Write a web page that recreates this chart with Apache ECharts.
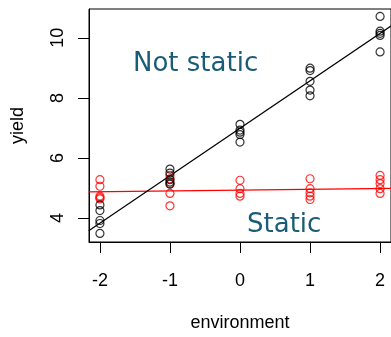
<!DOCTYPE html>
<html><head><meta charset="utf-8">
<script src="https://cdn.jsdelivr.net/npm/echarts@6/dist/echarts.min.js"></script>
<style>html,body{margin:0;padding:0;background:#fff}#c{width:391px;height:337px}</style>
</head><body><div id="c"></div>
<script>
var environments = [-2, -1, 0, 1, 2];
var notStatic = [
  [4.44, 4.25, 3.92, 3.82, 3.49],
  [5.63, 5.50, 5.28, 5.20, 5.13],
  [7.12, 6.93, 6.86, 6.78, 6.53],
  [8.99, 8.91, 8.55, 8.26, 8.07],
  [10.71, 10.22, 10.15, 10.08, 9.53]
];
var staticYield = [
  [5.28, 5.06, 4.73, 4.64, 4.68],
  [5.42, 5.31, 5.15, 4.82, 4.41],
  [5.26, 4.98, 4.82, 4.73],
  [5.31, 4.98, 4.84, 4.73, 4.62],
  [5.42, 5.28, 5.15, 4.98, 4.82]
];
var notStaticLine = [[-2.16, 3.58], [2.16, 10.40]];
var staticLine = [[-2.16, 4.87], [2.16, 4.99]];
var xTicks = [-2, -1, 0, 1, 2];
var yTicks = [4, 6, 8, 10];

function pairs(groups) {
  var out = [];
  groups.forEach(function (g, i) { g.forEach(function (v) { out.push([environments[i], v]); }); });
  return out;
}
var font = 'Liberation Sans, Arial, sans-serif';
var chart = echarts.init(document.getElementById('c'));
chart.setOption({
  animation: false,
  backgroundColor: '#fff',
  grid: { left: 89, top: 9, width: 304, height: 237, show: true, borderColor: '#000', borderWidth: 1, backgroundColor: 'transparent' },
  xAxis: {
    type: 'value', min: -2.156, max: 2.156,
    name: 'environment', nameLocation: 'middle', nameGap: 72,
    nameTextStyle: { fontFamily: font, fontSize: 18, color: '#000' },
    axisLine: { show: true, onZero: false, lineStyle: { color: '#000', width: 1 } },
    splitLine: { show: false },
    axisTick: { show: true, length: 11, customValues: xTicks, lineStyle: { color: '#000' } },
    axisLabel: { customValues: xTicks, margin: 30, fontFamily: font, fontSize: 18, color: '#000' }
  },
  yAxis: {
    type: 'value', min: 3.205, max: 10.958,
    name: 'yield', nameLocation: 'middle', nameGap: 62,
    nameTextStyle: { fontFamily: font, fontSize: 18, color: '#000' },
    axisLine: { show: true, onZero: false, lineStyle: { color: '#000', width: 1 } },
    splitLine: { show: false },
    axisTick: { show: true, length: 11, customValues: yTicks, lineStyle: { color: '#000' } },
    axisLabel: { customValues: yTicks, rotate: 90, margin: 22, fontFamily: font, fontSize: 18, color: '#000' }
  },
  series: [
    { type: 'line', data: staticLine, showSymbol: false, lineStyle: { color: '#ff0000', width: 1.2 }, z: 2 },
    { type: 'line', data: notStaticLine, showSymbol: false, lineStyle: { color: '#000', width: 1.2 }, z: 2 },
    { type: 'scatter', data: pairs(staticYield), symbol: 'circle', symbolSize: 8,
      itemStyle: { color: 'rgba(0,0,0,0)', borderColor: '#ff0000', borderWidth: 1.2 }, z: 3 },
    { type: 'scatter', data: pairs(notStatic), symbol: 'circle', symbolSize: 8,
      itemStyle: { color: 'rgba(0,0,0,0)', borderColor: '#000', borderWidth: 1.2 }, z: 3 }
  ],
  graphic: [
    { type: 'text', x: 133, y: 51, style: { text: 'Not static', fontFamily: 'DejaVu Sans', fontSize: 26, fill: '#1a5c78', align: 'left', verticalAlign: 'top' } },
    { type: 'text', x: 247, y: 212, style: { text: 'Static', fontFamily: 'DejaVu Sans', fontSize: 26, fill: '#1a5c78', align: 'left', verticalAlign: 'top' } }
  ]
});
</script></body></html>
